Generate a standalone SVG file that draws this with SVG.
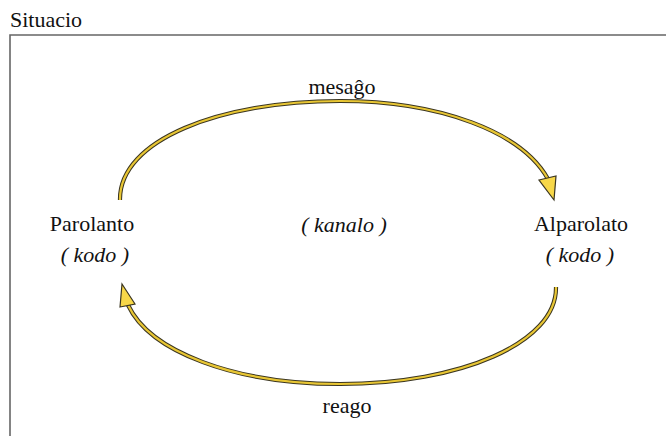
<svg xmlns="http://www.w3.org/2000/svg" width="666" height="436" viewBox="0 0 666 436" font-family="Liberation Serif, Times New Roman, serif" font-size="22">
<style>
.t{font-family:"Liberation Serif","Times New Roman",serif;font-size:22px;fill:#111}
.it{font-style:italic}
.frame{fill:none;stroke:#666;stroke-width:1.6}
.outer{fill:none;stroke:#3a3520;stroke-width:4.2}
.inner{fill:none;stroke:#e8c634;stroke-width:2.2}
.head{fill:#f7d748;stroke:#3a3520;stroke-width:1.2;stroke-linejoin:miter}
</style>
<rect width="666" height="436" fill="#fff"/>
<text class="t" font-family="Liberation Serif, serif" x="10" y="27">Situacio</text>
<path class="frame" d="M10,436 V35 H666"/>
<g id="connectors">
<g id="mesago">
<path class="outer" d="M120,200 C119,140 220,101 340,101 C440,101 522,132 548,179"/>
<path class="inner" d="M120,200 C119,140 220,101 340,101 C440,101 522,132 548,179"/>
<polygon class="head" points="539,180 556,176 554,200"/>
<text class="t" font-family="Liberation Serif, serif" x="342" y="94" text-anchor="middle">mesaĝo</text>
</g>
<g id="reago">
<path class="outer" d="M556,287 C557,343 460,384 340,384 C235,384 150,352 128,305"/>
<path class="inner" d="M556,287 C557,343 460,384 340,384 C235,384 150,352 128,305"/>
<polygon class="head" points="120,307 135,304 122,284"/>
<text class="t" font-family="Liberation Serif, serif" x="347" y="413" text-anchor="middle">reago</text>
</g>
</g>
<g id="parolanto">
<text class="t" font-family="Liberation Serif, serif" x="92" y="231" text-anchor="middle">Parolanto</text>
<text class="t it" font-family="Liberation Serif, serif" x="95" y="262" text-anchor="middle">( kodo )</text>
</g>
<g id="kanalo">
<text class="t it" font-family="Liberation Serif, serif" x="344" y="232" text-anchor="middle">( kanalo )</text>
</g>
<g id="alparolato">
<text class="t" font-family="Liberation Serif, serif" x="581" y="231" text-anchor="middle">Alparolato</text>
<text class="t it" font-family="Liberation Serif, serif" x="580" y="262" text-anchor="middle">( kodo )</text>
</g>
</svg>
